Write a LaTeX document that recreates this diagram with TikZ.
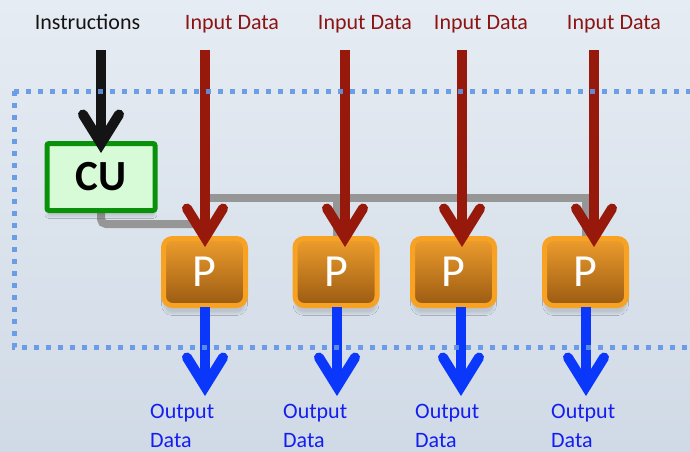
\documentclass[tikz,border=0pt]{standalone}
\usepackage{fontspec}
\setmainfont{Carlito}
\usetikzlibrary{arrows.meta,calc,shadows.blur}

\definecolor{bgtop}{RGB}{230,236,243}
\definecolor{bgbot}{RGB}{208,218,230}
\definecolor{dotblue}{RGB}{95,150,230}
\definecolor{cugreen}{RGB}{10,145,10}
\definecolor{cufill}{RGB}{215,250,215}
\definecolor{pborder}{RGB}{248,162,36}
\definecolor{ptop}{RGB}{238,158,45}
\definecolor{pbot}{RGB}{155,90,18}
\definecolor{inred}{RGB}{150,25,12}
\definecolor{outblue}{RGB}{10,55,250}
\definecolor{busgray}{RGB}{150,150,150}
\definecolor{labred}{RGB}{140,20,20}
\definecolor{labblue}{RGB}{20,30,240}

\tikzset{
  lab/.style={font=\fontsize{22}{29}\selectfont, inner sep=0pt},
  cubox/.style={draw=cugreen, fill=cufill, line width=5pt, rounded corners=2pt,
    minimum width=108pt, minimum height=67pt, inner sep=0pt,
    font=\fontsize{43}{43}\selectfont\bfseries,
    blur shadow={shadow xshift=0pt, shadow yshift=-6pt, shadow opacity=12, shadow blur steps=6}},
  pbox/.style={draw=pborder, line width=5pt, rounded corners=9pt,
    top color=ptop, bottom color=pbot,
    minimum width=82pt, minimum height=67pt, inner sep=0pt,
    text=white, font=\fontsize{46}{46}\selectfont,
    blur shadow={shadow xshift=0pt, shadow yshift=-8pt, shadow opacity=12, shadow blur steps=8}},
  flow/.style={line width=10pt,
    -{Straight Barb[length=29pt, width=36pt, line cap=round, line join=miter]}},
  bus/.style={draw=busgray, line width=8pt},
}

\begin{document}
\begin{tikzpicture}[x=1pt, y=-1pt]
\useasboundingbox (0,0) rectangle (690,451);
\clip (0,0) rectangle (690,451);
\shade[top color=bgtop, bottom color=bgbot] (0,0) rectangle (690,451);

% arrow anchor points
\coordinate (i0) at (101,50);
\coordinate (r1) at (205,50);
\coordinate (r2) at (345,50);
\coordinate (r3) at (462,50);
\coordinate (r4) at (594,50);
\coordinate (o1) at (205,396);
\coordinate (o2) at (337,396);
\coordinate (o3) at (461,396);
\coordinate (o4) at (586,396);
\coordinate (b0) at (205,224);
\coordinate (bL) at (205,198);

% control bus (behind the units)
\draw[bus, rounded corners=5pt] (101,180) |- (b0);
\draw[bus] (bL) -| (586,250);
\draw[bus] (337,198) -- (337,250);
\draw[bus] (461,198) -- (461,250);

% control unit and processing elements
\node[cubox] (cu) at (101,177) {CU};
\node[pbox] (p1) at (204.5,272) {P};
\node[pbox] (p2) at (336,272) {P};
\node[pbox] (p3) at (453.5,272) {P};
\node[pbox] (p4) at (585.5,272) {P};

% instruction stream
\draw[flow, draw=black!92] (i0) -- ($(i0 |- cu.north)+(0,12)$);

% data streams in
\foreach \r/\p in {r1/p1, r2/p2, r3/p3, r4/p4}
  \draw[flow, draw=inred] (\r) -- ($(\r |- \p.north)+(0,11)$);

% data streams out
\foreach \o/\p in {o1/p1, o2/p2, o3/p3, o4/p4}
  \draw[flow, draw=outblue] ($(\o |- \p.south)+(0,-1)$) -- (\o);

% machine boundary
\draw[dotblue, opacity=0.9, line width=5pt, dash pattern=on 5pt off 7pt]
  (14,91) -- (700,91) (14,91) -- (14,347) -- (700,347);

% labels
\node[lab, anchor=base, text=black!92] (ins) at (87.5,29) {Instructions};
\node[lab, anchor=base, text=labred] (in1) at (232,29) {Input Data};
\node[lab, anchor=base, text=labred] (in2) at (365,29) {Input Data};
\node[lab, anchor=base, text=labred] (in3) at (481,29) {Input Data};
\node[lab, anchor=base, text=labred] (in4) at (614,29) {Input Data};
\node[lab, anchor=base west, align=left, text=labblue] (out1) at (150,447) {Output\\Data};
\node[lab, anchor=base west, align=left, text=labblue] (out2) at (283,447) {Output\\Data};
\node[lab, anchor=base west, align=left, text=labblue] (out3) at (415,447) {Output\\Data};
\node[lab, anchor=base west, align=left, text=labblue] (out4) at (551,447) {Output\\Data};
\end{tikzpicture}
\end{document}
